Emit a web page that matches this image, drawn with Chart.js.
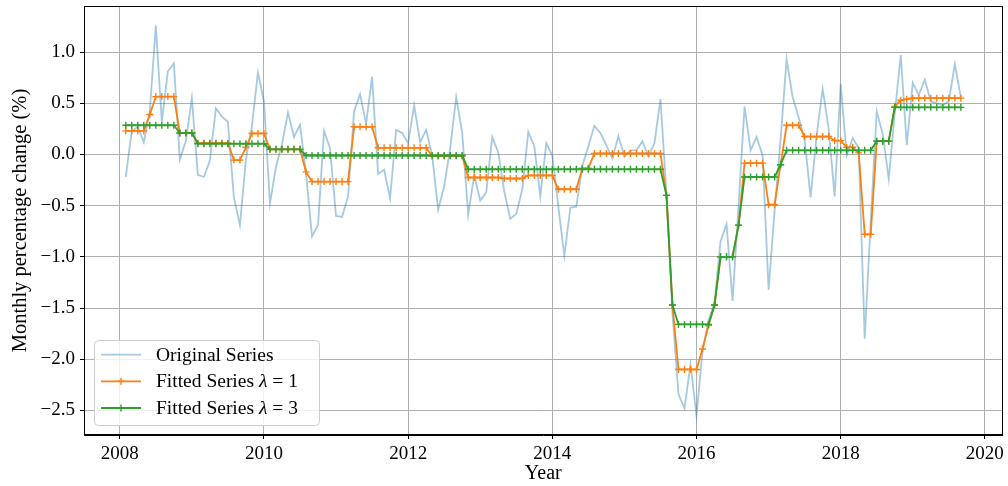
<!DOCTYPE html>
<html>
<head>
<meta charset="utf-8">
<script src="https://cdn.jsdelivr.net/npm/chart.js@4.4.1/dist/chart.umd.min.js"></script>
<style>
  html, body { margin: 0; padding: 0; background: #fff; }
  #wrap { width: 1008px; height: 486px; position: relative; }
</style>
</head>
<body>
<div id="wrap"><canvas id="ctx_series"></canvas></div>
<script>
// monthly series, first value = end of Jan 2008
const firstYear = 2008;

const original = [
  -0.22, 0.23, 0.27, 0.12, 0.42, 1.26, 0.32, 0.81, 0.89, -0.05, 0.13, 0.55,
  -0.20, -0.22, -0.06, 0.45, 0.37, 0.32, -0.42, -0.69, -0.05, 0.28, 0.80, 0.52,
  -0.48, -0.12, 0.10, 0.41, 0.17, 0.29, -0.18, -0.80, -0.69, 0.23, 0.06, -0.60,
  -0.61, -0.41, 0.42, 0.59, 0.30, 0.76, -0.19, -0.15, -0.43, 0.24, 0.21, 0.11,
  0.48, 0.12, 0.24, -0.01, -0.54, -0.31, 0.06, 0.56, 0.21, -0.59, -0.20, -0.45,
  -0.37, 0.17, 0.02, -0.36, -0.63, -0.58, -0.34, 0.22, 0.08, -0.41, 0.11, -0.01,
  -0.51, -0.99, -0.52, -0.51, -0.11, 0.08, 0.28, 0.21, 0.09, -0.04, 0.18, -0.02,
  0.04, 0.04, 0.13, -0.02, 0.11, 0.54, -0.38, -1.55, -2.34, -2.48, -2.05, -2.55,
  -1.92, -1.62, -1.45, -0.85, -0.68, -1.43, -0.50, 0.47, 0.04, 0.17, -0.01, -1.32,
  -0.55, 0.15, 0.93, 0.56, 0.36, 0.14, -0.42, 0.19, 0.64, 0.25, -0.41, 0.69,
  -0.01, 0.16, 0.06, -1.80, -0.65, 0.42, 0.20, -0.24, 0.40, 0.97, 0.09, 0.70,
  0.58, 0.73, 0.52, 0.50, 0.48, 0.52, 0.88, 0.56
];

const fitted1 = [
  0.23, 0.23, 0.23, 0.23, 0.39, 0.565, 0.565, 0.565, 0.565, 0.21, 0.21, 0.21,
  0.11, 0.11, 0.11, 0.11, 0.11, 0.11, -0.055, -0.055, 0.07, 0.205, 0.205, 0.205,
  0.05, 0.05, 0.05, 0.05, 0.05, 0.05, -0.17, -0.265, -0.265, -0.265, -0.265, -0.265,
  -0.265, -0.265, 0.27, 0.27, 0.27, 0.27, 0.065, 0.065, 0.065, 0.065, 0.065, 0.065,
  0.065, 0.065, 0.065, -0.015, -0.015, -0.015, -0.015, -0.015, -0.015, -0.225, -0.225, -0.225,
  -0.225, -0.225, -0.225, -0.235, -0.235, -0.235, -0.235, -0.205, -0.205, -0.205, -0.205, -0.205,
  -0.34, -0.34, -0.34, -0.34, -0.135, -0.135, 0.01, 0.01, 0.01, 0.01, 0.01, 0.01,
  0.01, 0.01, 0.01, 0.01, 0.01, 0.01, -0.40, -1.47, -2.10, -2.10, -2.10, -2.10,
  -1.90, -1.67, -1.47, -1.00, -1.00, -1.00, -0.69, -0.085, -0.085, -0.085, -0.085, -0.49,
  -0.49, -0.10, 0.285, 0.285, 0.285, 0.175, 0.175, 0.175, 0.175, 0.175, 0.135, 0.135,
  0.07, 0.07, 0.015, -0.78, -0.78, 0.13, 0.13, 0.13, 0.47, 0.53, 0.54, 0.55,
  0.55, 0.55, 0.55, 0.55, 0.55, 0.55, 0.55, 0.55
];

const fitted3 = [
  0.285, 0.285, 0.285, 0.285, 0.285, 0.285, 0.285, 0.285, 0.285, 0.21, 0.21, 0.21,
  0.105, 0.105, 0.105, 0.105, 0.105, 0.105, 0.105, 0.105, 0.105, 0.105, 0.105, 0.105,
  0.05, 0.05, 0.05, 0.05, 0.05, 0.05, -0.01, -0.01, -0.01, -0.01, -0.01, -0.01,
  -0.01, -0.01, -0.01, -0.01, -0.01, -0.01, -0.01, -0.01, -0.01, -0.01, -0.01, -0.01,
  -0.01, -0.01, -0.01, -0.01, -0.01, -0.01, -0.01, -0.01, -0.01, -0.145, -0.145, -0.145,
  -0.145, -0.145, -0.145, -0.145, -0.145, -0.145, -0.145, -0.145, -0.145, -0.145, -0.145, -0.145,
  -0.145, -0.145, -0.145, -0.145, -0.145, -0.145, -0.145, -0.145, -0.145, -0.145, -0.145, -0.145,
  -0.145, -0.145, -0.145, -0.145, -0.145, -0.145, -0.40, -1.47, -1.66, -1.66, -1.66, -1.66,
  -1.66, -1.66, -1.47, -1.00, -1.00, -1.00, -0.69, -0.22, -0.22, -0.22, -0.22, -0.22,
  -0.22, -0.10, 0.04, 0.04, 0.04, 0.04, 0.04, 0.04, 0.04, 0.04, 0.04, 0.04,
  0.04, 0.04, 0.04, 0.04, 0.04, 0.13, 0.13, 0.13, 0.46, 0.46, 0.46, 0.46,
  0.46, 0.46, 0.46, 0.46, 0.46, 0.46, 0.46, 0.46
];

const xTicks = [2008, 2010, 2012, 2014, 2016, 2018, 2020];
const yTicks = [-2.5, -2.0, -1.5, -1.0, -0.5, 0.0, 0.5, 1.0];
const seriesNames = ['Original Series', 'Fitted Series', 'Fitted Series'];
const lambdas = [null, 1, 3];
const colors = ['rgba(31, 119, 180, 0.4)', '#ff7f0e', '#2ca02c'];

// month-end positions in decimal years
const dates = original.map((v, i) => firstYear + (i + 1) / 12);
const toXY = arr => arr.map((v, i) => ({ x: dates[i], y: v }));

const FONT = "'Liberation Serif', 'DejaVu Serif', serif";
Chart.defaults.font.family = FONT;
Chart.defaults.font.size = 19;
Chart.defaults.color = '#000';

const minus = v => (v < 0 ? '\u2212' : '') + Math.abs(v).toFixed(1);

// top/right spines + matplotlib style legend box
const framePlugin = {
  id: 'frame',
  afterDraw(chart) {
    const c = chart.ctx;
    const a = chart.chartArea;
    c.save();
    c.strokeStyle = '#000';
    c.lineWidth = 1;
    c.strokeRect(Math.round(a.left) + 0.5, Math.round(a.top) + 0.5,
                 Math.round(a.right - a.left) - 1, Math.round(a.bottom - a.top) - 1);

    // legend
    const bx = 94.5, by = 340.5, bw = 225, bh = 85, r = 4;
    c.beginPath();
    c.moveTo(bx + r, by);
    c.arcTo(bx + bw, by, bx + bw, by + bh, r);
    c.arcTo(bx + bw, by + bh, bx, by + bh, r);
    c.arcTo(bx, by + bh, bx, by, r);
    c.arcTo(bx, by, bx + bw, by, r);
    c.closePath();
    c.fillStyle = 'rgba(255,255,255,0.8)';
    c.fill();
    c.strokeStyle = '#cccccc';
    c.stroke();

    const rows = [354.7, 381.3, 408];
    rows.forEach((yy, k) => {
      c.strokeStyle = colors[k];
      c.lineWidth = 1.8;
      c.beginPath();
      c.moveTo(101, yy);
      c.lineTo(141, yy);
      c.stroke();
      if (k > 0) {
        c.lineWidth = 1.4;
        c.beginPath();
        c.moveTo(121, yy - 3.5); c.lineTo(121, yy + 3.5);
        c.moveTo(117.5, yy); c.lineTo(124.5, yy);
        c.stroke();
      }
      c.fillStyle = '#000';
      c.textBaseline = 'alphabetic';
      c.font = '19.5px ' + FONT;
      let tx = 156;
      const base = yy + 6;
      if (lambdas[k] === null) {
        c.fillText(seriesNames[k], tx, base);
      } else {
        const t1 = seriesNames[k] + ' ';
        c.fillText(t1, tx, base);
        tx += c.measureText(t1).width;
        c.font = 'italic 19.5px ' + FONT;
        c.fillText('\u03bb', tx, base);
        tx += c.measureText('\u03bb').width + 5;
        c.font = '19.5px ' + FONT;
        c.fillText('=', tx, base);
        tx += c.measureText('=').width + 5;
        c.fillText(String(lambdas[k]), tx, base);
      }
    });
    c.restore();
  }
};

new Chart(document.getElementById('ctx_series').getContext('2d'), {
  type: 'line',
  data: {
    datasets: [
      {
        label: seriesNames[0],
        data: toXY(original),
        borderColor: colors[0],
        borderWidth: 1.8,
        pointRadius: 0,
        tension: 0,
        order: 3
      },
      {
        label: seriesNames[1] + ' \u03bb = 1',
        data: toXY(fitted1),
        borderColor: colors[1],
        backgroundColor: colors[1],
        borderWidth: 1.8,
        pointStyle: 'cross',
        pointRadius: 3.5,
        pointBorderWidth: 1.4,
        tension: 0,
        order: 2
      },
      {
        label: seriesNames[2] + ' \u03bb = 3',
        data: toXY(fitted3),
        borderColor: colors[2],
        backgroundColor: colors[2],
        borderWidth: 1.8,
        pointStyle: 'cross',
        pointRadius: 3.5,
        pointBorderWidth: 1.4,
        tension: 0,
        order: 1
      }
    ]
  },
  options: {
    responsive: true,
    maintainAspectRatio: false,
    animation: false,
    layout: { padding: { top: 6, right: 3, left: 0, bottom: 0 } },
    plugins: {
      legend: { display: false },
      tooltip: { enabled: false }
    },
    scales: {
      x: {
        type: 'linear',
        min: 2007.504,
        max: 2020.246,
        afterBuildTicks: s => { s.ticks = xTicks.map(v => ({ value: v })); },
        afterFit: s => { s.height = 51; s.paddingLeft = 0; s.paddingRight = 0; },
        ticks: { callback: v => String(v), padding: 4, maxRotation: 0, autoSkip: false },
        grid: { color: '#b0b0b0', lineWidth: 1, tickLength: 4, tickColor: '#000' },
        border: { color: '#000', width: 1 },
        title: { display: true, text: 'Year', font: { size: 20 }, padding: { top: 0, bottom: 0 } }
      },
      y: {
        min: -2.74,
        max: 1.45,
        afterBuildTicks: s => { s.ticks = yTicks.map(v => ({ value: v })); },
        afterFit: s => { s.width = 84; s.paddingTop = 0; s.paddingBottom = 0; },
        ticks: { callback: v => minus(v), padding: 5, autoSkip: false },
        grid: { color: '#b0b0b0', lineWidth: 1, tickLength: 4, tickColor: '#000' },
        border: { color: '#000', width: 1 },
        title: { display: true, text: 'Monthly percentage change (%)', font: { size: 20.5 }, padding: { top: 8, bottom: 0 } }
      }
    }
  },
  plugins: [framePlugin]
});
</script>
</body>
</html>
